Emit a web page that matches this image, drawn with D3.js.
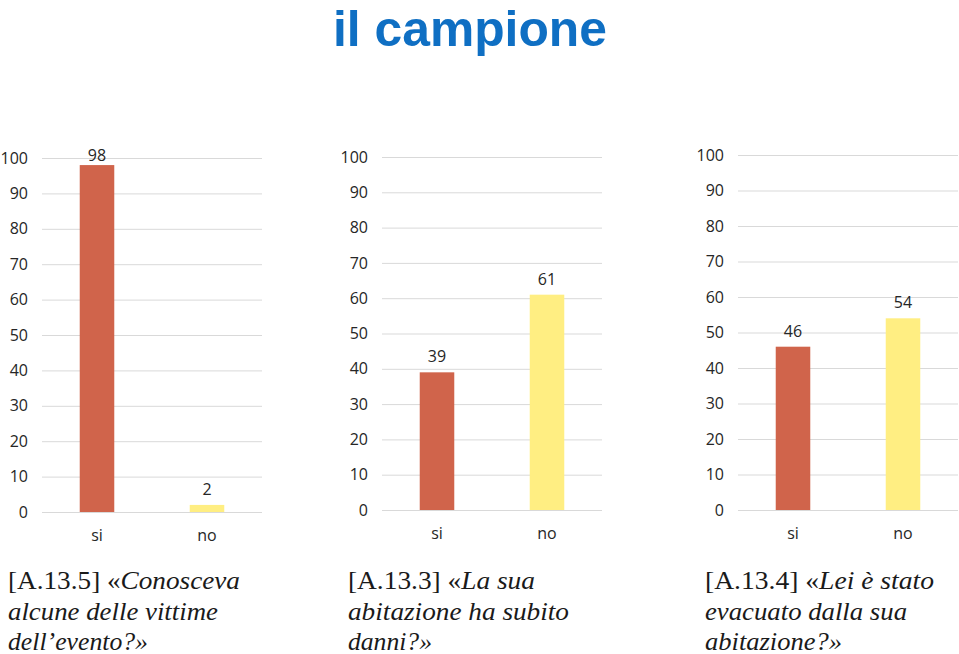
<!DOCTYPE html>
<html><head><meta charset="utf-8">
<script src="https://cdn.jsdelivr.net/npm/d3@7"></script>
<style>body{margin:0;background:#fff}svg{display:block}</style>
</head><body>
<svg id="c" width="959" height="654"></svg>
<script>
const titleText = "il campione";
const categories = ["si", "no"];
const valuesA135 = [98, 2];
const valuesA133 = [39, 61];
const valuesA134 = [46, 54];
const yTicks = [0, 10, 20, 30, 40, 50, 60, 70, 80, 90, 100];
const barColors = ["#D0644B", "#FFEE82"];
const captionA135 = [["[A.13.5] «", "Conosceva"], ["", "alcune delle vittime"], ["", "dell’evento?»"]];
const captionA133 = [["[A.13.3] «", "La sua"], ["", "abitazione ha subito"], ["", "danni?»"]];
const captionA134 = [["[A.13.4] «", "Lei è stato"], ["", "evacuato dalla sua"], ["", "abitazione?»"]];

const svg = d3.select("#c");

svg.append("text").attr("x", 470).attr("y", 46).attr("text-anchor", "middle")
  .attr("font-family", "Liberation Sans").attr("font-weight", "bold").attr("font-size", 50)
  .attr("textLength", 274).attr("lengthAdjust", "spacingAndGlyphs")
  .attr("fill", "#0F6FC3").text(titleText);

const panels = [
  {values: valuesA135, caption: captionA135, x0: 42, x1: 262, yb: 512, yt: 158, cx: 8, cw: [232, 210, 140]},
  {values: valuesA133, caption: captionA133, x0: 382, x1: 602, yb: 510, yt: 157, cx: 348, cw: [187, 221, 84]},
  {values: valuesA134, caption: captionA134, x0: 738, x1: 958, yb: 510, yt: 155, cx: 705, cw: [229, 202, 137]}
];

panels.forEach(p => {
  const g = svg.append("g");
  const x = d3.scaleBand().domain(categories).range([p.x0, p.x1]).padding(0);
  const y = d3.scaleLinear().domain([0, 100]).range([p.yb, p.yt]);
  const w = p.x1 - p.x0;

  const ya = g.append("g").attr("transform", `translate(${p.x0},0)`)
    .call(d3.axisLeft(y).tickValues(yTicks).tickSize(-w).tickPadding(14));
  ya.select(".domain").remove();
  ya.selectAll(".tick line").attr("stroke", "#D9D9D9").attr("stroke-width", 1);
  ya.selectAll(".tick text").attr("font-family", "Open Sans").attr("font-size", 16).attr("fill", "#262626");

  const xa = g.append("g").attr("transform", `translate(0,${p.yb})`)
    .call(d3.axisBottom(x).tickSize(0).tickPadding(18));
  xa.select(".domain").remove();
  xa.selectAll(".tick text").attr("font-family", "Open Sans").attr("font-size", 16).attr("fill", "#262626");

  const bw = x.bandwidth() * 0.314;
  g.selectAll("rect.bar").data(p.values).join("rect").attr("class", "bar")
    .attr("x", (d, i) => x(categories[i]) + (x.bandwidth() - bw) / 2)
    .attr("width", bw)
    .attr("y", d => y(d))
    .attr("height", d => p.yb - y(d))
    .attr("fill", (d, i) => barColors[i]);

  g.selectAll("text.lbl").data(p.values).join("text").attr("class", "lbl")
    .attr("x", (d, i) => x(categories[i]) + x.bandwidth() / 2)
    .attr("y", d => Math.max(y(d) - 10, p.yt + 3))
    .attr("text-anchor", "middle")
    .attr("font-family", "Open Sans").attr("font-size", 16).attr("fill", "#262626")
    .text(d => d);

  p.caption.forEach((line, li) => {
    const t = svg.append("text").attr("x", p.cx).attr("y", 589 + li * 30.5)
      .attr("font-family", "Liberation Serif").attr("font-size", 25).attr("fill", "#1a1a1a")
      .attr("textLength", p.cw[li]).attr("lengthAdjust", "spacingAndGlyphs");
    if (line[0]) t.append("tspan").text(line[0]);
    t.append("tspan").attr("font-style", "italic").text(line[1]);
  });
});
</script>
</body></html>
